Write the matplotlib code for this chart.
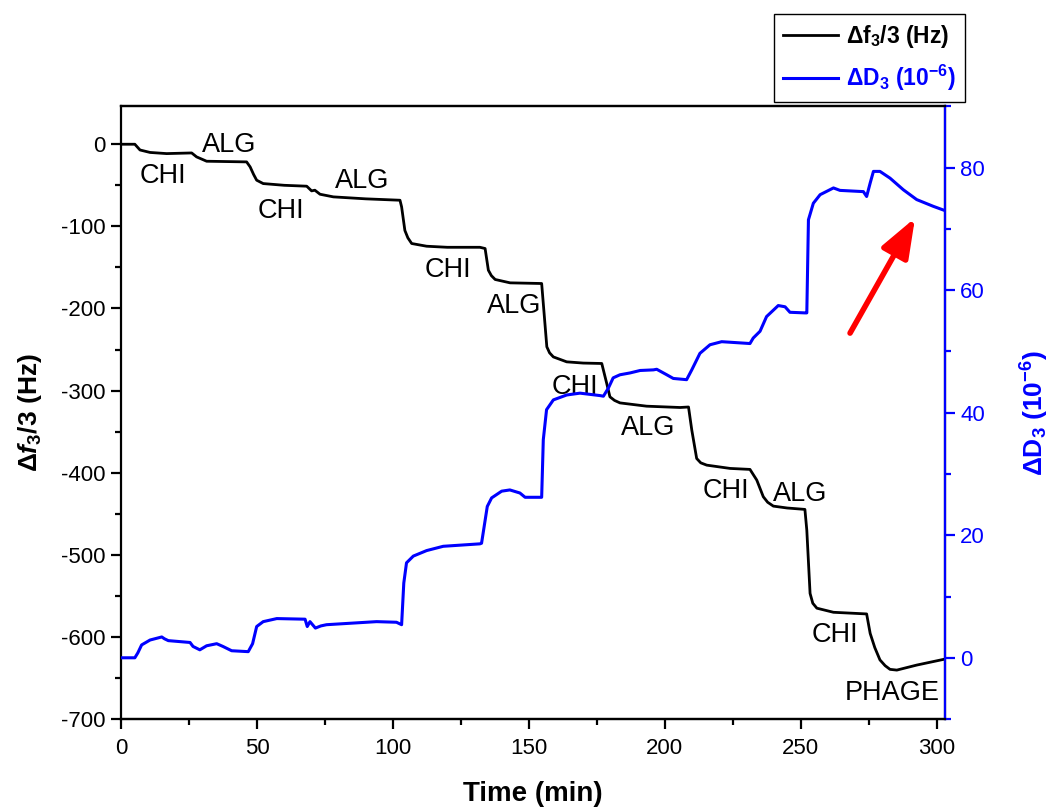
import matplotlib
matplotlib.use("Agg")
import matplotlib.pyplot as plt
from matplotlib.ticker import MultipleLocator

plt.rcParams['font.family'] = ['Liberation Sans', 'DejaVu Sans']
plt.rcParams['mathtext.fontset'] = 'custom'
plt.rcParams['mathtext.rm'] = 'Liberation Sans'
plt.rcParams['mathtext.bf'] = 'Liberation Sans:bold'
plt.rcParams['mathtext.it'] = 'Liberation Sans:italic'
plt.rcParams['mathtext.bfit'] = 'Liberation Sans:italic:bold'
plt.rcParams['axes.unicode_minus'] = False

# ---- data ----
time_f = [0, 5.1, 7, 10.7, 16.8, 26, 27.8, 31.5, 46.2, 47.5, 48.8, 49.9, 52.3, 60, 68.3,
          70.1, 71.3, 73.2, 78.1, 90, 102.6, 103.2, 104.4, 105.5, 106.9, 112.4, 120, 132,
          133.9, 135.1, 136.2, 137.6, 143.1, 154.7, 155.3, 156.6, 157.6, 159, 163.9, 170,
          176.8, 178.6, 179.8, 181.5, 183.5, 193.3, 205.6, 208.7, 209.9, 211.7, 213.2,
          215.4, 224, 231.3, 233.8, 236.2, 237.8, 239.9, 245, 251.5, 252.2, 253.4, 254.4,
          255.9, 262, 274.2, 275.5, 277.2, 279.1, 281, 282.8, 285.3, 292.6, 302.4]
delta_f = [0, 0, -7, -10, -11.4, -10.6, -15.4, -20.7, -21.5, -27.6, -37, -43.8, -47.9, -50,
           -51.1, -56.8, -56, -60.9, -64.1, -66.5, -68.2, -76.3, -105, -114, -120.9, -124.2,
           -125.5, -125.5, -127, -153.4, -160, -164.7, -168.8, -169.6, -194, -246.7, -254,
           -259, -265, -266.5, -267, -291, -307.6, -312, -315, -319, -320.6, -320, -348,
           -382.7, -388, -390.8, -394.8, -396, -409, -429.3, -436, -440.7, -443, -444.7,
           -470, -547, -559, -565, -570, -572, -595.7, -613, -628, -635, -639.5, -640.4,
           -634.3, -627.4]

time_d = [0, 5.1, 6.2, 7.6, 10.7, 15, 16, 17.4, 25.4, 26.5, 29, 31.5, 35.2, 37.5, 40.7, 46.8,
          48.4, 49.9, 52.3, 57.3, 67.7, 68.5, 69.5, 71.5, 73.5, 75.6, 94, 101.3, 103.2, 104,
          105, 107.5, 112.4, 118.5, 132, 132.6, 134.7, 136.3, 140, 143, 146.7, 148.6, 154.7,
          155.3, 156.5, 159, 163.9, 168.8, 176.2, 177.4, 179.2, 181, 183.5, 187.2, 190.9,
          195.8, 197, 200.7, 203.1, 208, 209.9, 212.9, 216.6, 220.9, 231.3, 232.5, 235,
          237.4, 241.7, 244.2, 246, 251.6, 252.2, 252.8, 254.6, 257.1, 262, 264.4, 273,
          274.2, 275.5, 276.7, 279.1, 282.8, 287.7, 292.6, 298.7, 302.4]
delta_d = [0, 0, 0.8, 2.1, 2.9, 3.4, 3.1, 2.8, 2.5, 1.85, 1.3, 1.96, 2.3, 1.85, 1.15, 1.0,
           2.3, 5.1, 5.9, 6.4, 6.3, 5.1, 5.9, 4.85, 5.2, 5.4, 5.9, 5.8, 5.4, 12.2, 15.5, 16.6,
           17.5, 18.2, 18.6, 18.7, 24.7, 26.1, 27.2, 27.4, 26.9, 26.2, 26.2, 35.6, 40.5, 42.1,
           42.9, 43.2, 42.8, 42.7, 44.0, 45.7, 46.2, 46.5, 46.9, 47.0, 47.1, 46.2, 45.6, 45.4,
           47.0, 49.7, 51.1, 51.6, 51.3, 52.2, 53.3, 55.7, 57.5, 57.3, 56.4, 56.3, 56.3, 71.5,
           74.2, 75.6, 76.7, 76.3, 76.1, 75.3, 77.5, 79.4, 79.4, 78.3, 76.4, 74.8, 73.7, 73.1]

step_labels = ["CHI", "ALG", "CHI", "ALG", "CHI", "ALG", "CHI", "ALG", "CHI", "ALG", "CHI", "PHAGE"]
label_t = [15.4, 39.9, 59.0, 88.8, 120.1, 144.5, 167.0, 194.0, 222.5, 249.7, 262.6, 283.6]
label_f = [-47.5, -9.7, -90.1, -53.6, -161.9, -205.7, -304.4, -354.3, -431.0, -434.6, -606.3, -676.9]

arrow_tail = (268.1, 53.0)
arrow_head = (292.0, 71.8)

# ---- figure ----
fig = plt.figure(figsize=(10.51, 8.09), dpi=100)
ax = fig.add_axes([0.1151, 0.1112, 0.7840, 0.7572])
ax2 = ax.twinx()

l1, = ax.plot(time_f, delta_f, color='black', lw=2.0)
l2, = ax2.plot(time_d, delta_d, color='#0000ff', lw=2.2)

ax.set_xlim(0, 303)
ax.set_ylim(-700, 46)
ax2.set_ylim(-10, 90)

ax.xaxis.set_major_locator(MultipleLocator(50))
ax.xaxis.set_minor_locator(MultipleLocator(25))
ax.yaxis.set_major_locator(MultipleLocator(100))
ax.yaxis.set_minor_locator(MultipleLocator(50))
ax2.yaxis.set_major_locator(MultipleLocator(20))
ax2.yaxis.set_minor_locator(MultipleLocator(10))

for a in (ax, ax2):
    for s in a.spines.values():
        s.set_linewidth(1.6)
ax2.spines['right'].set_color('#0000ff')
ax2.spines['left'].set_visible(False)

ax.tick_params(axis='both', which='major', direction='out', length=7.5, width=1.6, labelsize=16)
ax.tick_params(axis='both', which='minor', direction='out', length=4, width=1.6)
ax.tick_params(axis='x', pad=6)
ax2.tick_params(axis='y', which='major', direction='out', length=7.5, width=1.6, labelsize=16,
                colors='#0000ff')
ax2.tick_params(axis='y', which='minor', direction='out', length=4, width=1.6, colors='#0000ff')

ax.set_xlabel('Time (min)', fontsize=20, fontweight='bold', labelpad=16)
ax.set_ylabel(r'$\mathbf{\Delta}\mathbfit{f}_\mathbf{3}\mathbf{/3\ (Hz)}$', fontsize=19, labelpad=12)
ax2.set_ylabel(r'$\mathbf{\Delta D_3\ (10^{-6})}$', fontsize=19, color='#0000ff', labelpad=24)

for txt, tx, ty in zip(step_labels, label_t, label_f):
    ax.text(tx, ty, txt, fontsize=19.5, ha='center', va='baseline', color='black')

ax2.annotate('', xy=arrow_head, xytext=arrow_tail,
             arrowprops=dict(arrowstyle='-|>,head_length=1.2,head_width=0.45',
                             color='red', lw=4, mutation_scale=20, shrinkA=0, shrinkB=0))

leg = fig.legend([l1, l2], [r'$\mathbf{\Delta f_3/3\ (Hz)}$', r'$\mathbf{\Delta D_3\ (10^{-6})}$'],
                 loc='upper right', bbox_to_anchor=(0.918, 0.983), fontsize=16.5,
                 frameon=True, fancybox=False, edgecolor='black', framealpha=1,
                 handlelength=2.4, handletextpad=0.35, borderpad=0.4, labelspacing=0.55,
                 borderaxespad=0)
leg.get_frame().set_linewidth(1.0)
leg.get_texts()[1].set_color('#0000ff')

fig.savefig('out.png', dpi=100)
